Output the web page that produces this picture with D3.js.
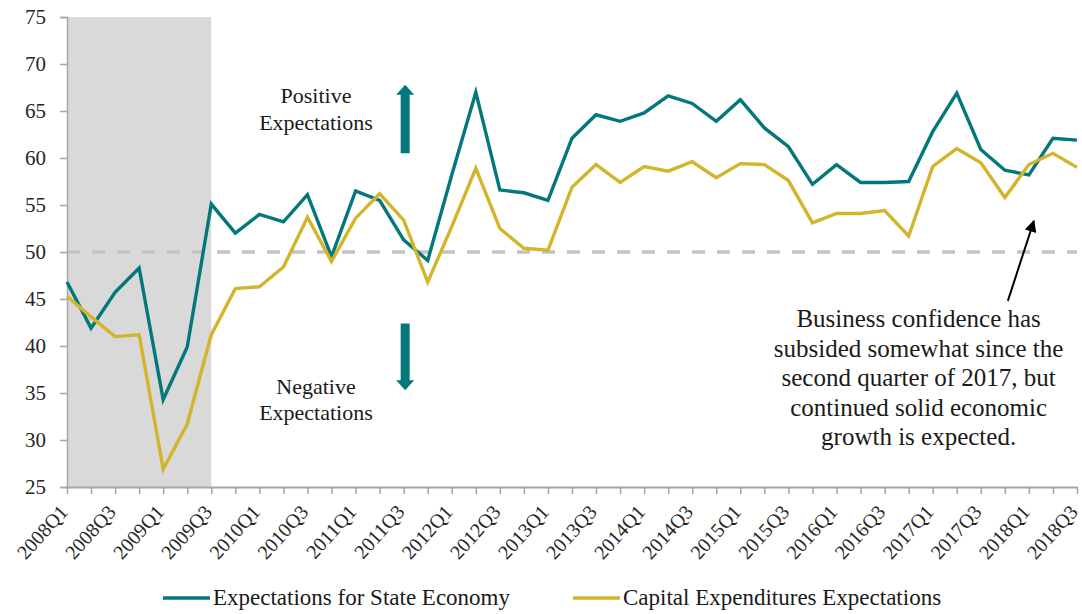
<!DOCTYPE html>
<html>
<head>
<meta charset="utf-8">
<script src="https://cdn.jsdelivr.net/npm/d3@7"></script>
<style>
  body { margin: 0; background: #fff; }
  svg { font-family: "Liberation Serif", "Times New Roman", serif; }
</style>
</head>
<body>
<div id="chart"></div>
<script>
// Quarters 2008Q1 .. 2018Q3
const quarters = [];
for (let y = 2008; y <= 2018; y++) {
    for (let q = 1; q <= 4; q++) {
        if (y === 2018 && q > 3) break;
        quarters.push(`${y}Q${q}`);
    }
}

const stateEconomy = [
    46.8, 41.9, 45.7, 48.3, 34.3, 39.9, 55.1, 52.0, 54.0, 53.2,
    56.1, 49.5, 56.5, 55.5, 51.3, 49.1, 58.2, 67.0, 56.6, 56.3,
    55.5, 62.1, 64.6, 63.9, 64.8, 66.6, 65.8, 63.9, 66.2, 63.2,
    61.2, 57.2, 59.3, 57.4, 57.4, 57.5, 62.8, 66.9, 60.9, 58.7,
    58.2, 62.1, 61.9
];

const capitalExpenditures = [
    45.3, 43.1, 41.0, 41.2, 26.9, 31.7, 41.2, 46.1, 46.3, 48.4,
    53.7, 49.0, 53.6, 56.2, 53.4, 46.8, 52.7, 58.9, 52.5, 50.4,
    50.2, 56.9, 59.3, 57.4, 59.1, 58.6, 59.6, 57.9, 59.4, 59.3,
    57.6, 53.1, 54.1, 54.1, 54.4, 51.7, 59.1, 61.0, 59.5, 55.8,
    59.3, 60.5, 59.0
];

const yTicks = [25, 30, 35, 40, 45, 50, 55, 60, 65, 70, 75];
const recession = ["2008Q1", "2009Q3"];
const seriesNames = ["Expectations for State Economy", "Capital Expenditures Expectations"];
const colors = ["#03787c", "#d3b52b"];

const W = 1082, H = 614;
const margin = { top: 17, right: 5, bottom: 127, left: 67 };
const width = W - margin.left - margin.right;
const height = H - margin.top - margin.bottom;

const svgRoot = d3.select("#chart").append("svg")
    .attr("width", W)
    .attr("height", H);
const svg = svgRoot.append("g")
    .attr("transform", `translate(${margin.left},${margin.top})`);

const x = d3.scalePoint().domain(quarters).range([0, width]);
const y = d3.scaleLinear().domain([25, 75]).range([height, 0]);

// recession shading
svg.append("rect")
    .attr("x", x(recession[0]))
    .attr("y", 0)
    .attr("width", x(recession[1]) - x(recession[0]))
    .attr("height", height)
    .attr("fill", "#d9d9d9");

// 50 reference line
svg.append("line")
    .attr("x1", 0).attr("x2", width)
    .attr("y1", y(50)).attr("y2", y(50))
    .attr("stroke", "#c3c3c3")
    .attr("stroke-width", 3.5)
    .attr("stroke-dasharray", "13,12");

// Y axis
const yAxis = svg.append("g")
    .call(d3.axisLeft(y).tickValues(yTicks).tickSize(7).tickPadding(14));
yAxis.select(".domain").attr("stroke", "#a6a6a6").attr("stroke-width", 1.5);
yAxis.selectAll(".tick line").attr("stroke", "#a6a6a6").attr("stroke-width", 1.5);
yAxis.selectAll("text")
    .attr("fill", "#262626")
    .style("font-size", "21px")
    .style("font-family", "Liberation Serif, serif");

// X axis
const xAxis = svg.append("g")
    .attr("transform", `translate(0,${height})`)
    .call(d3.axisBottom(x).tickSize(7).tickSizeOuter(0)
        .tickFormat((d, i) => i % 2 === 0 ? d : ""));
xAxis.select(".domain").attr("stroke", "#a6a6a6").attr("stroke-width", 2);
xAxis.selectAll(".tick line").attr("stroke", "#a6a6a6").attr("stroke-width", 1.5);
xAxis.selectAll("text")
    .attr("fill", "#262626")
    .style("font-size", "20px")
    .style("font-family", "Liberation Serif, serif")
    .attr("text-anchor", "end")
    .attr("dy", "0")
    .attr("transform", "translate(-6,19) rotate(-48)");

// Lines
const line = d3.line()
    .x((d, i) => x(quarters[i]))
    .y(d => y(d));

[stateEconomy, capitalExpenditures].forEach((s, k) => {
    svg.append("path")
        .datum(s)
        .attr("fill", "none")
        .attr("stroke", colors[k])
        .attr("stroke-width", 3.4)
        .attr("stroke-linejoin", "miter")
        .attr("d", line);
});

// Positive / Negative expectation labels and arrows
const arrowX = x("2011Q3") + 1.5;
function blockArrow(yFrom, yTo) {
    const dir = yTo < yFrom ? -1 : 1;
    const headLen = 10, headHalf = 9, shaftHalf = 4.5;
    const yBase = yTo - dir * headLen;
    const pts = [
        [arrowX - shaftHalf, yFrom], [arrowX - shaftHalf, yBase], [arrowX - headHalf, yBase],
        [arrowX, yTo], [arrowX + headHalf, yBase], [arrowX + shaftHalf, yBase], [arrowX + shaftHalf, yFrom]
    ];
    svg.append("path")
        .attr("d", d3.line()(pts) + "Z")
        .attr("fill", colors[0]);
}
blockArrow(y(60.5), y(67.8));
blockArrow(y(42.4), y(35.3));

const labelX = x("2010Q3") + 8.5;
[["Positive", 65.85], ["Expectations", 63.0], ["Negative", 34.9], ["Expectations", 32.1]].forEach(([t, v]) => {
    svg.append("text")
        .attr("x", labelX).attr("y", y(v))
        .attr("text-anchor", "middle")
        .attr("fill", "#1a1a1a")
        .style("font-size", "22px")
        .text(t);
});

// Annotation
const noteLines = [
    "Business confidence has",
    "subsided somewhat since the",
    "second quarter of 2017, but",
    "continued solid economic",
    "growth is expected."
];
const noteX = x("2016Q3") + 34;
noteLines.forEach((t, i) => {
    svg.append("text")
        .attr("x", noteX)
        .attr("y", y(42.0) + i * 29.5)
        .attr("text-anchor", "middle")
        .attr("fill", "#1a1a1a")
        .style("font-size", "25px")
        .text(t);
});

svgRoot.append("defs").append("marker")
    .attr("id", "arrowHead")
    .attr("viewBox", "0 0 10 10")
    .attr("refX", 9).attr("refY", 5)
    .attr("markerWidth", 7).attr("markerHeight", 6)
    .attr("markerUnits", "strokeWidth")
    .attr("orient", "auto")
    .append("path")
    .attr("d", "M0,0 L10,5 L0,10 Z")
    .attr("fill", "#000");

svg.append("line")
    .attr("x1", x("2017Q4") + 3).attr("y1", y(44.8))
    .attr("x2", x("2017Q4") + 29).attr("y2", y(53.3))
    .attr("stroke", "#000")
    .attr("stroke-width", 2)
    .attr("marker-end", "url(#arrowHead)");

// Legend
const legend = svgRoot.append("g").attr("transform", "translate(0,598)");
const legendX = [163, 573];
seriesNames.forEach((name, k) => {
    legend.append("line")
        .attr("x1", legendX[k]).attr("x2", legendX[k] + 47)
        .attr("y1", 0).attr("y2", 0)
        .attr("stroke", colors[k])
        .attr("stroke-width", 3.5);
    legend.append("text")
        .attr("x", legendX[k] + 50)
        .attr("y", 7)
        .attr("fill", "#1a1a1a")
        .style("font-size", "23px")
        .text(name);
});
</script>
</body>
</html>
